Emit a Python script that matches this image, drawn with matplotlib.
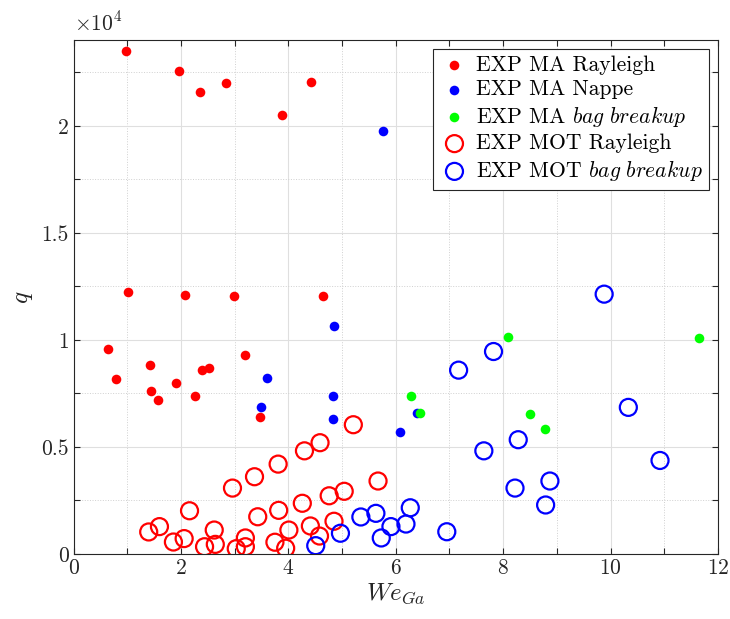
import matplotlib
matplotlib.use("Agg")
import matplotlib.pyplot as plt
from matplotlib.ticker import MultipleLocator, FuncFormatter

plt.rcParams["font.family"] = "serif"
plt.rcParams["font.serif"] = ["cmr10"]
plt.rcParams["mathtext.fontset"] = "cm"
plt.rcParams["axes.formatter.use_mathtext"] = True

# EXP MA Rayleigh (filled red)
ma_ray_x = [0.97, 1.97, 2.36, 2.83, 3.88, 4.42, 1.02, 2.07, 2.98, 4.65,
            0.65, 0.79, 1.42, 1.44, 1.57, 1.90, 2.26, 2.40, 2.52, 3.20, 3.47]
ma_ray_q = [23500, 22580, 21580, 22020, 20510, 22070, 12220, 12080, 12040, 12040,
            9560, 8180, 8810, 7600, 7180, 8000, 7390, 8580, 8700, 9280, 6410]

# EXP MA Nappe (filled blue)
ma_nap_x = [5.77, 3.60, 3.49, 4.85, 4.83, 4.83, 6.08, 6.39]
ma_nap_q = [19760, 8220, 6880, 10660, 7360, 6330, 5700, 6570]

# EXP MA bag breakup (filled green)
ma_bag_x = [6.28, 6.45, 8.09, 8.49, 8.77, 11.65]
ma_bag_q = [7360, 6570, 10150, 6520, 5820, 10080]

# EXP MOT Rayleigh (open red)
mot_ray_x = [1.40, 1.60, 1.86, 2.06, 2.16, 2.44, 2.62, 2.64, 2.96, 3.03,
             3.20, 3.20, 3.37, 3.43, 3.75, 3.81, 3.82, 3.95, 4.01, 4.26,
             4.30, 4.41, 4.58, 4.59, 4.76, 4.85, 5.04, 5.21, 5.67]
mot_ray_q = [1030, 1280, 560, 720, 2020, 340, 1120, 450, 3080, 250,
             750, 340, 3610, 1740, 550, 4200, 2040, 270, 1120, 2370,
             4820, 1310, 840, 5200, 2720, 1530, 2930, 6040, 3410]

# EXP MOT bag breakup (open blue)
mot_bag_x = [4.51, 4.97, 5.35, 5.63, 5.73, 5.91, 6.19, 6.27, 6.95, 7.17,
             7.64, 7.82, 8.22, 8.28, 8.79, 8.87, 9.88, 10.33, 10.92]
mot_bag_q = [390, 970, 1730, 1900, 750, 1280, 1400, 2160, 1040, 8590,
             4820, 9460, 3080, 5340, 2290, 3410, 12140, 6850, 4370]

fig = plt.figure(figsize=(7.3, 6.19), dpi=100)
ax = fig.add_axes([0.1007, 0.105, 0.8829, 0.8299])

ax.scatter(ma_ray_x, ma_ray_q, s=48, color=(1, 0, 0), linewidths=0, label="EXP MA Rayleigh", zorder=3)
ax.scatter(ma_nap_x, ma_nap_q, s=48, color=(0, 0, 1), linewidths=0, label="EXP MA Nappe", zorder=3)
ax.scatter(ma_bag_x, ma_bag_q, s=48, color=(0, 1, 0), linewidths=0,
           label=r"EXP MA $\mathit{bag\ breakup}$", zorder=3)
ax.scatter(mot_ray_x, mot_ray_q, s=150, facecolors="none", edgecolors=(1, 0, 0),
           linewidths=1.6, label="EXP MOT Rayleigh", zorder=3)
ax.scatter(mot_bag_x, mot_bag_q, s=150, facecolors="none", edgecolors=(0, 0, 1),
           linewidths=1.6, label=r"EXP MOT $\mathit{bag\ breakup}$", zorder=3)

ax.set_xlim(0, 12)
ax.set_ylim(0, 24000)
ax.xaxis.set_major_locator(MultipleLocator(2))
ax.xaxis.set_minor_locator(MultipleLocator(1))
ax.yaxis.set_major_locator(MultipleLocator(5000))
ax.yaxis.set_minor_locator(MultipleLocator(2500))
ax.yaxis.set_major_formatter(FuncFormatter(lambda v, p: "%g" % (v / 1e4)))

ax.grid(True, which="major", color="#dfdfdf", linewidth=0.8, zorder=0)
ax.grid(True, which="minor", color="#d0d0d0", linewidth=0.7, linestyle=":", zorder=0)
ax.set_axisbelow(True)

ax.tick_params(which="both", direction="in", top=True, right=True, labelsize=15.5,
               colors="#262626", length=4.5, width=0.8)
for sp in ax.spines.values():
    sp.set_color("#262626")
    sp.set_linewidth(0.8)

ax.set_xlabel(r"$We_{Ga}$", fontsize=18, color="#262626", labelpad=2)
ax.set_ylabel(r"$q$", fontsize=18, color="#262626", labelpad=4)
ax.text(0.0, 1.012, r"$\times 10^{4}$", transform=ax.transAxes, fontsize=15.5,
        color="#262626", ha="left", va="bottom")

leg = ax.legend(loc="upper right", fontsize=15.6, frameon=True, fancybox=False,
                edgecolor="#262626", framealpha=1, borderaxespad=0.4,
                handletextpad=0.3, labelspacing=0.22, borderpad=0.3,
                handlelength=1.4, scatterpoints=1)
leg.get_frame().set_linewidth(0.8)

fig.savefig("out.png", dpi=100)
